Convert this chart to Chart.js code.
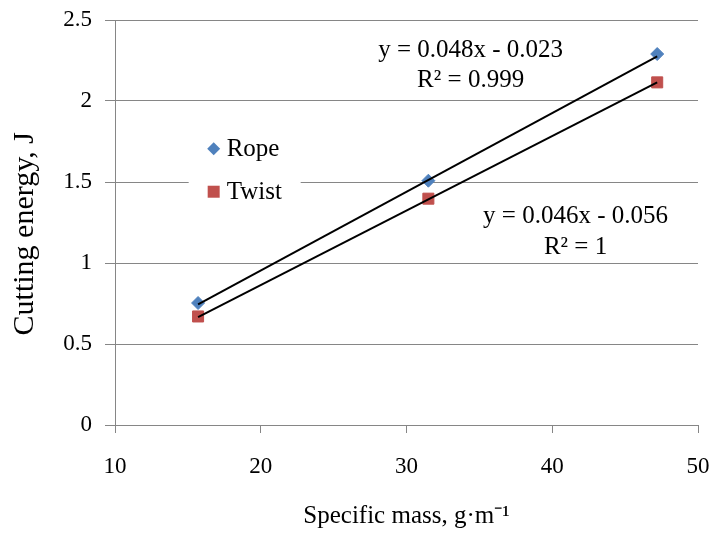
<!DOCTYPE html>
<html>
<head>
<meta charset="utf-8">
<script src="https://cdn.jsdelivr.net/npm/chart.js@4/dist/chart.umd.min.js"></script>
<style>
  html, body { margin: 0; padding: 0; background: #ffffff; }
  #c { display: block; }
</style>
</head>
<body>
<canvas id="c" width="713" height="534"></canvas>
<script>
// ---- data ----
const seriesNames = ['Rope', 'Twist'];
const specificMass = [15.7, 31.5, 47.2];
const ropeEnergy = [0.753, 1.508, 2.290];
const twistEnergy = [0.670, 1.397, 2.115];
const trendMass = [15.7, 47.2];
const ropeTrend = [0.745, 2.275];
const twistTrend = [0.666, 2.115];
const xTickValues = [10, 20, 30, 40, 50];
const yTickValues = [0, 0.5, 1, 1.5, 2, 2.5];
const yTickLabels = ['0', '0.5', '1', '1.5', '2', '2.5'];
const ropeEquation = ['y = 0.048x - 0.023', 'R\u00B2 = 0.999'];
const twistEquation = ['y = 0.046x - 0.056', 'R\u00B2 = 1'];
const xTitle = 'Specific mass, g\u00B7m\u207B\u00B9';
const yTitle = 'Cutting energy, J';

const FONT = '"Liberation Serif", "Times New Roman", serif';
const GRID = '#868686';

const toPts = (xs, ys) => xs.map((x, i) => ({ x: x, y: ys[i] }));
const noPad = s => { s.paddingLeft = 0; s.paddingRight = 0; s.paddingTop = 0; s.paddingBottom = 0; };

const annotations = {
  id: 'annotations',
  afterDatasetsDraw(chart) {
    const ctx = chart.ctx;
    const xs = chart.scales.x, ys = chart.scales.y;
    ctx.save();
    ctx.fillStyle = '#000';
    ctx.font = '25px ' + FONT;
    ctx.textAlign = 'center';
    ctx.textBaseline = 'middle';
    // equations, positioned in data units
    const eqs = [
      { lines: ropeEquation, x: 34.4, y: [2.312, 2.125] },
      { lines: twistEquation, x: 41.6, y: [1.29, 1.095] }
    ];
    eqs.forEach(e => {
      e.lines.forEach((t, i) => {
        ctx.fillText(t, xs.getPixelForValue(e.x), ys.getPixelForValue(e.y[i]));
      });
    });
    // legend inside the plot area
    const lx = xs.getPixelForValue(16.77);
    const top = ys.getPixelForValue(1.78);
    const bot = ys.getPixelForValue(1.33);
    ctx.fillStyle = '#ffffff';
    ctx.fillRect(lx - 25, top, 112, bot - top);
    const rows = [ys.getPixelForValue(1.705), ys.getPixelForValue(1.44)];
    [0, 1].forEach(i => {
      const ds = chart.data.datasets[i];
      ctx.fillStyle = ds.backgroundColor;
      ctx.strokeStyle = ds.borderColor;
      ctx.lineWidth = 1;
      ctx.beginPath();
      if (i === 0) {
        ctx.moveTo(lx, rows[i] - 6.5); ctx.lineTo(lx + 6.5, rows[i]);
        ctx.lineTo(lx, rows[i] + 6.5); ctx.lineTo(lx - 6.5, rows[i]);
        ctx.closePath();
      } else {
        ctx.rect(lx - 6, rows[i] - 6, 12, 12);
      }
      ctx.fill();
      ctx.fillStyle = '#000';
      ctx.textAlign = 'left';
      ctx.fillText(ds.label, lx + 13, rows[i] + 1);
    });
    ctx.restore();
  }
};

new Chart(document.getElementById('c'), {
  type: 'scatter',
  data: {
    datasets: [
      {
        label: seriesNames[0],
        data: toPts(specificMass, ropeEnergy),
        pointStyle: 'rectRot', pointRadius: 6.5,
        backgroundColor: '#4F81BD', borderColor: '#4F81BD', borderWidth: 1,
        order: 2
      },
      {
        label: seriesNames[1],
        data: toPts(specificMass, twistEnergy),
        pointStyle: 'rect', pointRadius: 7.8,
        backgroundColor: '#C0504D', borderColor: '#C0504D', borderWidth: 1,
        order: 2
      },
      {
        label: 'Linear (' + seriesNames[0] + ')',
        data: toPts(trendMass, ropeTrend),
        showLine: true, pointRadius: 0, borderColor: '#000', borderWidth: 2,
        backgroundColor: '#000', order: 1
      },
      {
        label: 'Linear (' + seriesNames[1] + ')',
        data: toPts(trendMass, twistTrend),
        showLine: true, pointRadius: 0, borderColor: '#000', borderWidth: 2,
        backgroundColor: '#000', order: 1
      }
    ]
  },
  options: {
    responsive: false,
    animation: false,
    events: [],
    layout: { padding: { top: 20, right: 15, bottom: 0, left: 0 } },
    plugins: { legend: { display: false }, tooltip: { enabled: false } },
    scales: {
      x: {
        type: 'linear', min: 10, max: 50,
        afterBuildTicks: s => { s.ticks = xTickValues.map(v => ({ value: v })); },
        afterFit: s => { s.height = 109; noPad(s); },
        grid: { drawOnChartArea: false, drawTicks: true, tickLength: 8, color: GRID, lineWidth: 1 },
        border: { display: true, color: GRID, width: 1 },
        ticks: { color: '#000', padding: 20, maxRotation: 0, font: { family: FONT, size: 23 },
          callback: v => String(v) },
        title: { display: true, text: xTitle, color: '#000', font: { family: FONT, size: 25 },
          padding: { top: 0, bottom: 3 } }
      },
      y: {
        type: 'linear', min: 0, max: 2.5,
        afterBuildTicks: s => { s.ticks = yTickValues.map(v => ({ value: v })); },
        afterFit: s => { s.width = 115; noPad(s); },
        grid: { drawTicks: true, tickLength: 10, color: GRID, lineWidth: 1 },
        border: { display: true, color: GRID, width: 1 },
        ticks: { color: '#000', padding: 13, font: { family: FONT, size: 23 },
          callback: v => yTickLabels[yTickValues.indexOf(v)] },
        title: { display: true, text: yTitle + '   ', color: '#000', font: { family: FONT, size: 30 },
          padding: { top: 7, bottom: 0 } }
      }
    }
  },
  plugins: [annotations]
});
</script>
</body>
</html>
